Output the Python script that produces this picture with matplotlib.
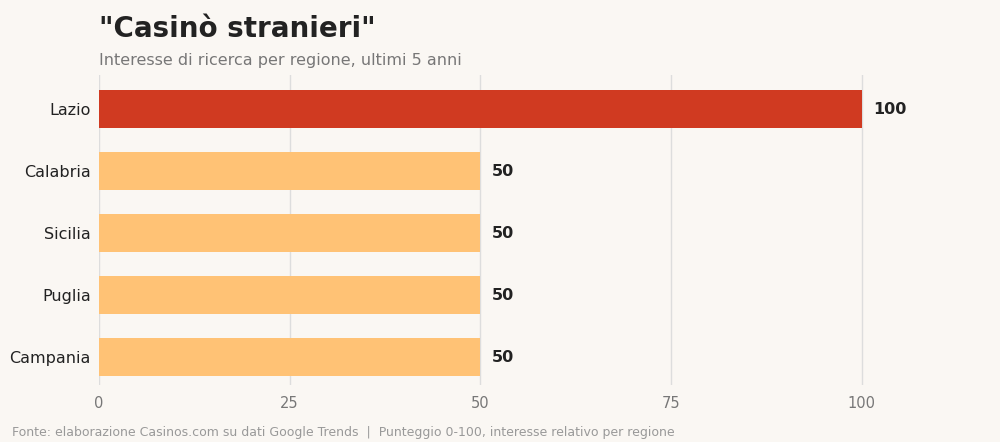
import matplotlib
matplotlib.use("Agg")
import matplotlib.pyplot as plt

regions = ["Lazio", "Calabria", "Sicilia", "Puglia", "Campania"]
values = [100, 50, 50, 50, 50]
xticks = [0, 25, 50, 75, 100]

bg = "#faf7f3"
fig = plt.figure(figsize=(10, 4.42), dpi=100, facecolor=bg)
ax = fig.add_axes([0.099, 0.129, 0.877, 0.701], facecolor=bg)

ypos = list(range(len(regions)))[::-1]
colors = ["#d03a21" if v == max(values) else "#ffc275" for v in values]
ax.barh(ypos, values, height=0.62, color=colors, zorder=3)
for y, v in zip(ypos, values):
    ax.text(v + 1.5, y, str(v), va="center", ha="left", fontsize=11.5,
            fontweight="bold", color="#222222")

ax.set_xlim(0, 115)
ax.set_ylim(-0.45, 4.55)
ax.set_xticks(xticks)
ax.set_yticks(ypos)
ax.set_yticklabels(regions, fontsize=11.5, color="#222222")
ax.tick_params(axis="x", colors="#777777", labelsize=10.5, length=0, pad=8)
ax.tick_params(axis="y", length=0, pad=6)
ax.grid(axis="x", color="#dddddd", linewidth=1, zorder=0)
for s in ax.spines.values():
    s.set_visible(False)

fig.text(0.099, 0.935, "\"Casinò stranieri\"", fontsize=20, fontweight="bold",
         color="#222222", va="center")
fig.text(0.099, 0.862, "Interesse di ricerca per regione, ultimi 5 anni",
         fontsize=11.5, color="#777777", va="center")
fig.text(0.012, 0.022,
         "Fonte: elaborazione Casinos.com su dati Google Trends  |  Punteggio 0-100, interesse relativo per regione",
         fontsize=9, color="#999999", va="center")

fig.savefig("out.png", dpi=100, facecolor=bg)
